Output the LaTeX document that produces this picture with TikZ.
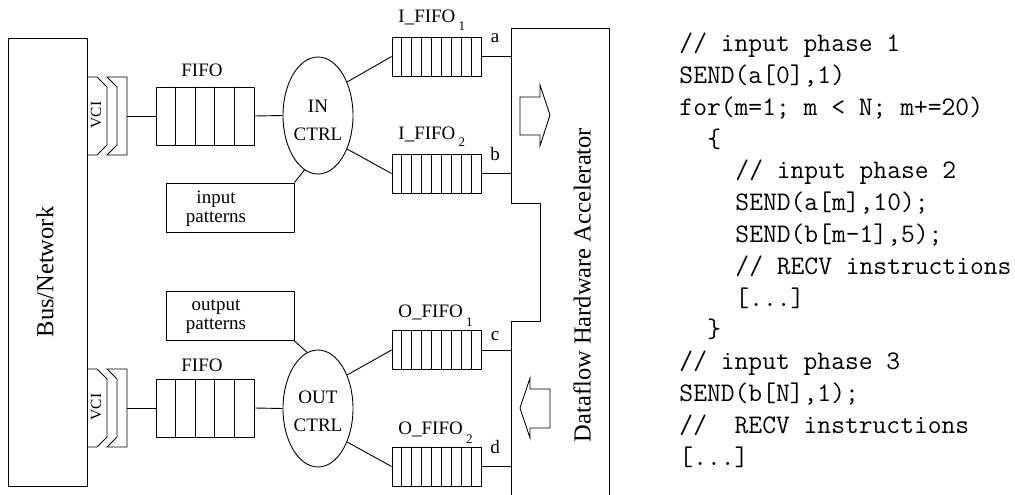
\documentclass[tikz,border=0pt]{standalone}
\usepackage{fontspec}
\setmainfont{Liberation Serif}
\usetikzlibrary{shapes.geometric,calc}
\newcommand\drawcells[2]{%
  \pgfmathtruncatemacro\ncellsm{#2-1}%
  \foreach \k in {1,...,\ncellsm}{%
    \draw ($(#1.north west)!\k/#2!(#1.north east)$) -- ($(#1.south west)!\k/#2!(#1.south east)$);}}
\begin{document}
\begin{tikzpicture}[x=1pt,y=-1pt,line width=0.9pt,
  lbl/.style={inner sep=0,font=\fontsize{19}{19}\selectfont},
  big/.style={inner sep=0,rotate=90,font=\fontsize{24.5}{24.5}\selectfont},
  bigfifo/.style={draw,inner sep=0,minimum width=98pt,minimum height=58pt},
  smallfifo/.style={draw,inner sep=0,minimum width=89pt,minimum height=39pt},
  ctrl/.style={draw,ellipse,inner sep=0,minimum width=70pt,minimum height=117pt},
  patbox/.style={draw,inner sep=0,minimum width=128pt,minimum height=49pt},
  code/.style={anchor=base west,inner sep=0,font=\ttfamily\fontsize{26.8}{26.8}\selectfont},
  sub/.style={font=\fontsize{13}{13}\selectfont}]
\useasboundingbox (0,0) rectangle (1015,495);

% Bus / Network
\node[draw,inner sep=0,minimum width=79pt,minimum height=448pt] (bus) at (47.5,262) {};
\node[big] (bustext) at (45,272) {Bus/Network};

% VCI shapes
\foreach \yc/\nm in {116/vci1,408/vci2}{
  \begin{scope}[shift={(0,\yc)}]
    \draw (87,-39) -- (97,-39) -- (107,-29) -- (107,29) -- (97,39) -- (87,39);
    \draw (107,-39) -- (127,-39) -- (127,39) -- (107,39) -- (117,29) -- (117,-29) -- cycle;
    \coordinate (\nm) at (127,0);
    \node[inner sep=0,rotate=90,font=\fontsize{15.5}{15.5}\selectfont] (\nm t) at (96,-1) {VCI};
  \end{scope}
}

% FIFOs
\node[bigfifo] (fifoin) at (205,116) {};
\drawcells{fifoin}{5}
\node[lbl,anchor=base] (fifoinl) at (202,77) {FIFO};
\node[bigfifo] (fifoout) at (205,408) {};
\drawcells{fifoout}{5}
\node[lbl,anchor=base] (fifooutl) at (202,371) {FIFO};

% controllers
\node[ctrl] (inctrl) at (318,115.5) {};
\node[lbl,align=center,font=\fontsize{19}{28}\selectfont] (inctrlt) at (318,120) {IN\\CTRL};
\node[ctrl] (outctrl) at (318,408.5) {};
\node[lbl,align=center,font=\fontsize{19}{28}\selectfont] (outctrlt) at (318,411) {OUT\\CTRL};

% pattern boxes
\node[patbox] (inpat) at (230,207.5) {};
\node[lbl,align=center] (inpatt) at (216,209) {input\\patterns};
\node[patbox] (outpat) at (230,316) {};
\node[lbl,align=center] (outpatt) at (216,317) {output\\patterns};

% small FIFOs
\node[smallfifo] (ififo1) at (436.5,56.5) {};
\drawcells{ififo1}{9}
\node[smallfifo] (ififo2) at (436.5,173.5) {};
\drawcells{ififo2}{9}
\node[smallfifo] (ofifo1) at (436.5,350) {};
\drawcells{ofifo1}{9}
\node[smallfifo] (ofifo2) at (436.5,466.5) {};
\drawcells{ofifo2}{9}

\node[lbl,anchor=base west] (ififo1l) at (398,23) {I\_FIFO\,\raisebox{-8pt}{\fontsize{13}{13}\selectfont 1}};
\node[lbl,anchor=base west] (ififo2l) at (398,139) {I\_FIFO\,\raisebox{-8pt}{\fontsize{13}{13}\selectfont 2}};
\node[lbl,anchor=base west] (ofifo1l) at (398,317) {O\_FIFO\,\raisebox{-9pt}{\fontsize{13}{13}\selectfont 1}};
\node[lbl,anchor=base west] (ofifo2l) at (398,434) {O\_FIFO\,\raisebox{-9pt}{\fontsize{13}{13}\selectfont 2}};

% accelerator
\draw (511,497) -- (511,321) -- (540,321) -- (540,203) -- (511,203) -- (511,28) -- (609,28) -- (609,497);
\node[big] (acct) at (582,285) {Dataflow Hardware Accelerator};
\coordinate (pa) at (511,56.5);
\coordinate (pb) at (511,173.5);
\coordinate (pc) at (511,350);
\coordinate (pd) at (511,466.5);
\node[lbl,anchor=base] (la) at (495,43) {a};
\node[lbl,anchor=base] (lb) at (495,160) {b};
\node[lbl,anchor=base] (lc) at (495,340) {c};
\node[lbl,anchor=base] (ld) at (495,453) {d};

% hollow arrows
\draw (520,97) -- (540,97) -- (540,85) -- (550,115) -- (540,146) -- (540,135) -- (520,135) -- cycle;
\draw (550,389) -- (530,389) -- (530,378) -- (520,408) -- (530,438) -- (530,428) -- (550,428) -- cycle;

% connectors
\draw (vci1) -- (fifoin.west);
\draw (fifoin.east) -- (inctrl.west);
\draw (inpat.north east) -- (inctrl.256);
\draw (inctrl.49) -- (ififo1.west);
\draw (inctrl.-49) -- (ififo2.west);
\draw (ififo1.east) -- (pa);
\draw (ififo2.east) -- (pb);
\draw (vci2) -- (fifoout.west);
\draw (fifoout.east) -- (outctrl.west);
\draw (outpat.south east) -- (outctrl.101);
\draw (outctrl.49) -- (ofifo1.west);
\draw (outctrl.-49) -- (ofifo2.west);
\draw (ofifo1.east) -- (pc);
\draw (ofifo2.east) -- (pd);

% code
\node[code] (c1) at (679,51.7) {// input phase 1};
\node[code] (c2) at (679,83.5) {SEND(a[0],1)};
\node[code] (c3) at (679,115.3) {for(m=1; m < N; m+=20)};
\node[code] (c4) at (707,147.1) {\{};
\node[code] (c5) at (735,178.9) {// input phase 2};
\node[code] (c6) at (735,210.7) {SEND(a[m],10);};
\node[code] (c7) at (735,242.5) {SEND(b[m-1],5);};
\node[code] (c8) at (735,274.3) {// RECV instructions};
\node[code] (c9) at (735,306.1) {[...]};
\node[code] (c10) at (707,337.9) {\}};
\node[code] (c11) at (679,369.7) {// input phase 3};
\node[code] (c12) at (679,401.5) {SEND(b[N],1);};
\node[code] (c13) at (679,433.3) {//~~RECV instructions};
\node[code] (c14) at (679,465.1) {[...]};
\end{tikzpicture}
\end{document}
